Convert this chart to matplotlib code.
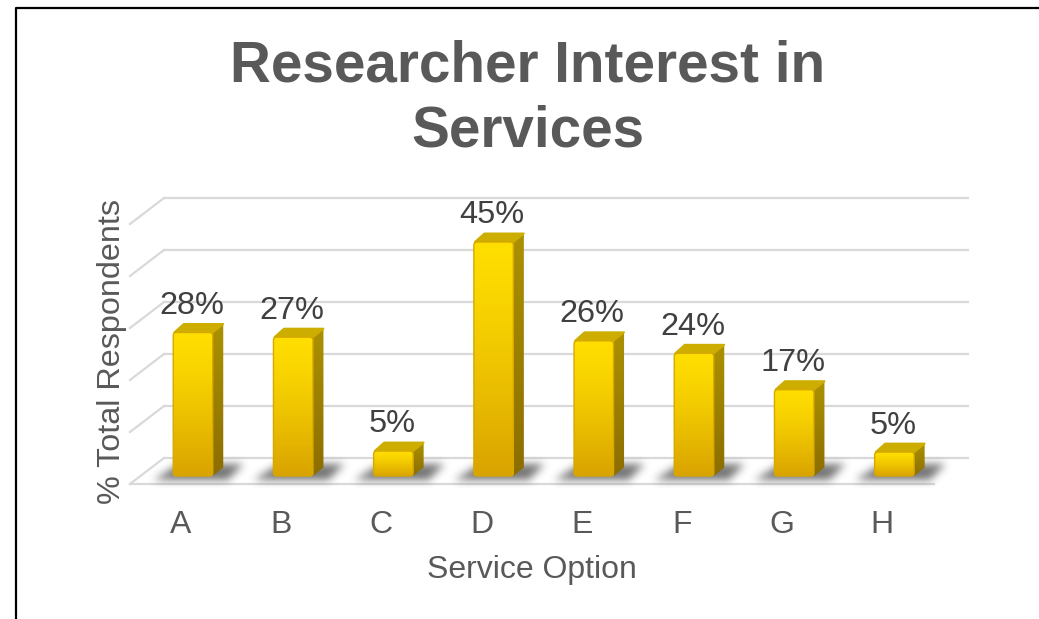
import numpy as np
import matplotlib
matplotlib.use("Agg")
import matplotlib.pyplot as plt
from matplotlib.patches import Polygon, FancyBboxPatch
from matplotlib.lines import Line2D

categories = ["A", "B", "C", "D", "E", "F", "G", "H"]
values = [27.6, 26.7, 4.8, 45.0, 26.0, 23.6, 16.6, 4.6]
labels = ["28%", "27%", "5%", "45%", "26%", "24%", "17%", "5%"]
grid_values = [0, 10, 20, 30, 40, 50]

W, H = 1039, 619
plt.rcParams["font.family"] = ["Liberation Sans", "DejaVu Sans"]
fig = plt.figure(figsize=(W / 100, H / 100), dpi=100, facecolor="white")

# axes box in pixels
L, R, T, B = 130, 968, 190, 484
ax = fig.add_axes([L / W, 1 - B / H, (R - L) / W, (B - T) / H])
PX_X, X0 = 100.2, 181      # px per category, px of first tick
PX_Y, Y0 = 5.2, 476        # px per percent, px of zero
XLIM = ((L - X0) / PX_X, (R - X0) / PX_X)
YLIM = ((Y0 - B) / PX_Y, (Y0 - T) / PX_Y)
for s in ax.spines.values():
    s.set_visible(False)
ax.patch.set_visible(False)

dx = lambda px: px / PX_X
dy = lambda px: px / PX_Y

# walls: floor front edge, side wall, back gridlines
GRID = "#D9D9D9"
xf0, xf1 = dx(L - X0), dx(934 - X0)
xb0, xb1 = dx(164 - X0), dx(R - X0)
floor_front = dy(Y0 - 484)
floor_back = dy(Y0 - 458)
for v in grid_values:
    ax.plot([xb0, xb1], [floor_back + v, floor_back + v], color=GRID, lw=1.6, zorder=1, clip_on=False)
    ax.plot([xf0, xb0], [floor_front + v, floor_back + v], color=GRID, lw=1.6, zorder=1, clip_on=False)
ax.plot([xf0, xf1], [floor_front, floor_front], color=GRID, lw=1.6, zorder=1, clip_on=False)

bar_w = dx(39.5)
shift = dx(12)
depth_x, depth_y = dx(10.5), dy(8.5)
TOP = "#CDAE00"


def lerp(c0, c1, t):
    return np.array(c0)[None, None, :] * (1 - t[..., None]) + np.array(c1)[None, None, :] * t[..., None]


def shadow_image():
    """Blurred parallelogram alpha mask, 1 cell = 1 px."""
    yy, xx = np.mgrid[0:32, 0:110]
    frac = (yy - 8) / 15.0            # 0 at back edge, 1 at front edge
    left = 30 - 24 * frac
    right = 94 - 14 * frac
    mask = ((frac >= 0) & (frac <= 1) & (xx >= left) & (xx <= right)).astype(float)
    kern = np.exp(-0.5 * (np.arange(-10, 11) / 4.2) ** 2)
    kern /= kern.sum()
    for axis in (0, 1):
        mask = np.apply_along_axis(lambda m: np.convolve(m, kern, mode="same"), axis, mask)
    rgba = np.zeros(mask.shape + (4,))
    rgba[..., :3] = 0.25
    rgba[..., 3] = mask * 0.72
    return rgba


SHADOW = shadow_image()

for i, (v, lab) in enumerate(zip(values, labels)):
    x0 = i + shift - bar_w / 2
    x1 = x0 + bar_w
    # soft floor shadow behind each bar
    sx0 = x0 - dx(25)
    ax.imshow(SHADOW, extent=(sx0, sx0 + dx(110), dy(Y0 - (456 + 32)), dy(Y0 - 456)),
              origin="upper", aspect="auto", zorder=2, interpolation="bilinear", clip_on=False)

    t = np.linspace(0, 1, 64)[:, None]
    # side face
    side = lerp((0.67, 0.57, 0.0), (0.55, 0.43, 0.0), t)
    im = ax.imshow(side, extent=(x1, x1 + depth_x, 0, v + depth_y), origin="upper",
                   aspect="auto", zorder=3, interpolation="bilinear")
    poly = Polygon([(x1, 0), (x1 + depth_x, depth_y), (x1 + depth_x, v + depth_y), (x1, v)],
                   closed=True, fc="none", ec="none", transform=ax.transData)
    ax.add_patch(poly)
    im.set_clip_path(poly)
    # top face
    ax.add_patch(Polygon([(x0 + dx(1), v), (x0 + depth_x, v + depth_y), (x1 + depth_x, v + depth_y), (x1, v)],
                         closed=True, fc=TOP, ec=TOP, lw=1.4, joinstyle="round", zorder=3))
    # front face, slightly rounded
    front = lerp((1.0, 0.87, 0.0), (0.85, 0.64, 0.0), t ** 1.3)
    im = ax.imshow(front, extent=(x0, x1, 0, v), origin="upper", aspect="auto", zorder=4,
                   interpolation="bilinear")
    box = FancyBboxPatch((x0, 0), bar_w, v, boxstyle=f"round,pad=0,rounding_size={dx(3)}",
                         mutation_aspect=PX_X / PX_Y, fc="none", ec="#D6A800", lw=1.0, zorder=5)
    ax.add_patch(box)
    im.set_clip_path(box)
    # value label
    ax.annotate(lab, (i + shift - dx(1.5), v + depth_y), xytext=(0, 13), textcoords="offset points",
                ha="center", va="center", fontsize=23.4, color="#404040", zorder=6,
                annotation_clip=False)

ax.set_xlim(*XLIM)
ax.set_ylim(*YLIM)

ax.set_xticks(range(len(categories)), categories)
ax.set_yticks([])
ax.tick_params(axis="x", length=0, pad=18.5, labelsize=23, labelcolor="#595959")
ax.set_xlabel("Service Option", fontsize=23, color="#595959")
ax.xaxis.set_label_coords((532 - L) / (R - L), -(570 - B) / (B - T), transform=ax.transAxes)
ax.xaxis.label.set_va("center")
ax.set_ylabel("% Total Respondents", fontsize=23.3, color="#595959")
ax.yaxis.set_label_coords((112 - L) / (R - L), (B - 352) / (B - T), transform=ax.transAxes)
ax.yaxis.label.set_va("center")

fig.text(528 / W, 1 - 99 / H, "Researcher Interest in\nServices", ha="center", va="center",
         fontsize=40.8, fontweight="bold", color="#595959", linespacing=1.24)

# outer frame (top and left edges only remain in view)
fig.add_artist(Line2D([16 / W, 16 / W, 1], [0, 1 - 8 / H, 1 - 8 / H],
                      transform=fig.transFigure, color="black", lw=1.6))

fig.savefig("out.png", dpi=100, facecolor="white")
